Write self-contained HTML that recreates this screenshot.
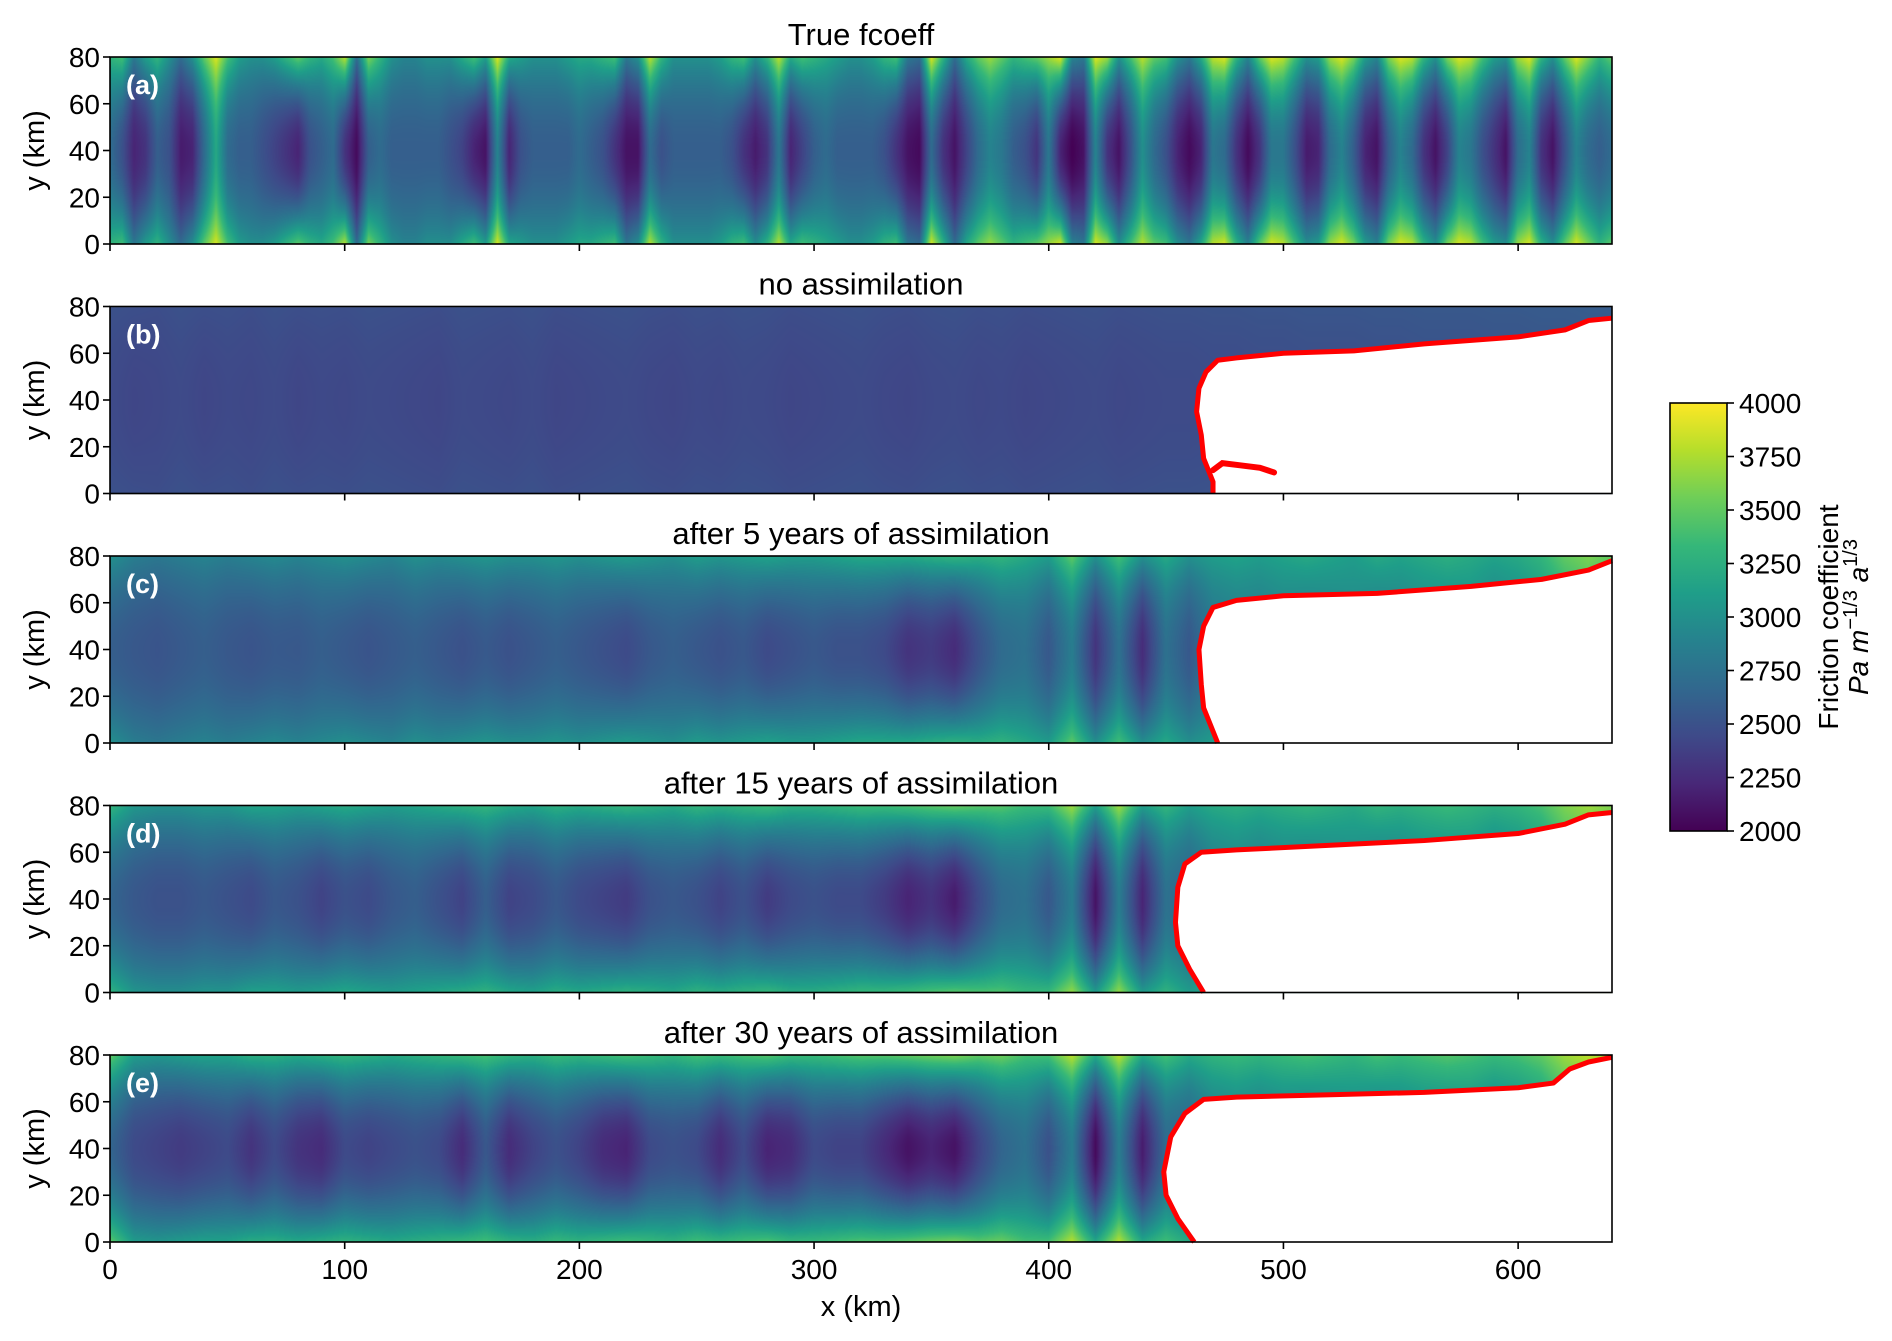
<!DOCTYPE html>
<html><head><meta charset="utf-8"><style>
body{margin:0;background:#fff;}
#wrap{position:relative;width:1892px;height:1341px;overflow:hidden;font-family:"Liberation Sans",sans-serif;}
canvas,svg{position:absolute;left:0;top:0;}
</style></head><body>
<div id="wrap">
<canvas id="cv" width="1892" height="1341"></canvas>
<svg id="sv" width="1892" height="1341"></svg>
</div>
<script>
const panelTitles=["True fcoeff","no assimilation","after 5 years of assimilation","after 15 years of assimilation","after 30 years of assimilation"];
const panelLetters=["(a)","(b)","(c)","(d)","(e)"];
const xTicks=[0,100,200,300,400,500,600];
const yTicks=[0,20,40,60,80];
const cbTicks=[2000,2250,2500,2750,3000,3250,3500,3750,4000];
// panel a: 5 km sampling
const aCenter=[2700,2500,2200,2300,2600,2500,2150,2200,2700,3200,2700,2600,2600,2500,2400,2300,2200,2500,2600,2700,2300,2050,2600,2700,2600,2600,2600,2600,2600,2500,2400,2200,2100,2900,2200,2500,2600,2600,2600,2600,2700,2600,2500,2300,2100,2100,2700,2500,2600,2600,2600,2600,2600,2500,2300,2150,2300,2800,2200,2400,2600,2700,2600,2600,2600,2600,2500,2300,2100,2050,2700,2300,2100,2400,2700,2900,2800,2600,2500,2300,2800,2200,2000,2100,2900,2300,2100,2500,3000,2700,2500,2200,2050,2200,2800,2700,2300,2050,2300,2800,2800,2500,2150,2200,2700,2900,2600,2200,2100,2600,2900,2700,2300,2100,2400,2900,2800,2500,2300,2100,2700,2900,2300,2100,2500,2900,2700,2600,2700];
const aEdge=[3300,3400,2800,3100,3300,3000,2700,3000,3500,3900,3400,3100,3000,3000,3100,3300,3500,3300,3200,3400,3800,2700,3600,3300,3000,2900,2900,3000,3000,3000,3200,3400,3100,3900,3200,3100,3000,3000,3000,3100,3200,3200,3300,3400,2800,3000,3800,3300,3000,3000,3000,3000,3100,3300,3400,3000,3300,3800,3200,3400,3300,3200,3100,3000,3000,3100,3300,3400,2800,2700,3900,3300,2700,3200,3500,3700,3500,3300,3400,3500,3700,3900,2900,2800,3900,3700,3000,3400,3800,3500,3400,3000,2800,3200,3800,3900,3300,2900,3500,3900,3800,3400,3000,3100,3700,3900,3600,3100,2900,3600,3900,3800,3300,3000,3600,3900,3800,3400,3100,3000,3700,3900,3300,3000,3500,3900,3600,3300,3500];
// panels b-e: 10 km sampling
const bCenter=[2450,2420,2430,2450,2420,2440,2430,2450,2420,2440,2430,2450,2440,2430,2420,2450,2440,2430,2450,2420,2430,2440,2450,2430,2420,2440,2430,2450,2440,2420,2430,2440,2450,2430,2420,2440,2450,2430,2440,2420,2430,2440,2450,2430,2440,2450,2450,2460,2460,2470,2470,2480,2480,2480,2490,2490,2500,2500,2500,2510,2510,2520,2520,2530,2530];
const bEdge=[2500,2480,2470,2500,2480,2490,2470,2500,2480,2490,2480,2500,2490,2480,2470,2500,2490,2480,2500,2470,2480,2490,2500,2480,2470,2490,2480,2500,2490,2470,2480,2490,2500,2480,2470,2490,2500,2480,2490,2470,2480,2490,2500,2480,2490,2500,2500,2510,2510,2520,2520,2530,2530,2530,2540,2540,2550,2550,2550,2560,2560,2570,2570,2580,2580];
const cCenter=[2600,2550,2520,2560,2600,2550,2520,2560,2550,2600,2560,2520,2560,2600,2550,2500,2560,2500,2550,2600,2550,2500,2450,2550,2600,2550,2500,2550,2450,2500,2550,2500,2500,2450,2300,2350,2250,2500,2700,2750,2550,2850,2300,2750,2250,2750,2550,2800,2850,2850,2900,2850,2900,2950,2850,2900,2950,2950,3000,2900,2950,3050,3200,3300,3300];
const cEdge=[3000,2850,2800,2850,2900,2850,2900,2950,2900,2950,3000,2950,2900,3000,2950,3000,3050,3000,3000,3050,3000,3050,3100,3050,3000,3100,3050,3100,3150,3100,3100,3150,3200,3200,3200,3250,3300,3250,3300,3200,3100,3500,3000,3400,3000,3200,3000,3100,3150,3100,3150,3200,3150,3100,3200,3150,3200,3250,3200,3150,3200,3300,3500,3600,3500];
const dCenter=[2650,2550,2500,2500,2550,2500,2450,2550,2500,2400,2500,2450,2550,2600,2500,2400,2600,2400,2450,2550,2450,2400,2350,2500,2550,2500,2400,2500,2350,2450,2500,2450,2450,2350,2200,2300,2150,2450,2700,2750,2550,2850,2100,2850,2200,2750,2650,2850,2900,2850,2900,2850,2900,2950,2850,2900,2950,2950,3000,2900,2950,3050,3300,3400,3400];
const dEdge=[3300,3050,3000,3000,3050,3050,3150,3150,3100,3150,3200,3150,3100,3150,3200,3250,3300,3200,3150,3250,3200,3250,3300,3250,3200,3300,3250,3300,3350,3250,3250,3300,3350,3350,3400,3450,3500,3450,3450,3350,3350,3700,3100,3700,3100,3300,3100,3200,3250,3200,3250,3300,3250,3200,3300,3250,3300,3350,3300,3250,3300,3400,3600,3700,3600];
const eCenter=[2650,2450,2400,2350,2400,2450,2300,2450,2300,2250,2450,2400,2450,2500,2450,2250,2550,2250,2400,2500,2400,2250,2200,2450,2500,2450,2250,2450,2200,2250,2450,2400,2400,2250,2100,2200,2100,2400,2650,2750,2500,2850,2050,2850,2150,2700,2650,2850,2900,2850,2900,2850,2900,2950,2850,2900,2950,2950,3000,2900,2950,3050,3300,3400,3400];
const eEdge=[3500,3100,3050,3100,3150,3150,3250,3250,3200,3250,3300,3250,3200,3250,3300,3350,3400,3300,3250,3350,3300,3350,3400,3350,3300,3400,3350,3400,3450,3350,3350,3400,3450,3450,3500,3550,3600,3500,3550,3400,3400,3800,3200,3800,3200,3400,3200,3300,3350,3300,3350,3400,3350,3300,3400,3350,3400,3450,3400,3350,3400,3500,3700,3800,3700];
// grounding lines [x km, y km]
const glB=[[470,0],[470,5],[466,15],[465,25],[463,35],[464,45],[467,52],[472,57],[480,58],[500,60],[530,61],[560,64],[600,67],[620,70],[630,74],[640,75]];
const glBranch=[[470,10],[474,13],[482,12],[490,11],[496,9]];
const glC=[[472,0],[470,5],[466,15],[465,25],[464,40],[466,50],[470,58],[480,61],[500,63],[540,64],[580,67],[610,70],[630,74],[640,78]];
const glD=[[466,0],[460,10],[455,20],[454,30],[455,45],[458,55],[465,60],[480,61],[520,63],[560,65],[600,68],[620,72],[630,76],[640,77]];
const glE=[[462,0],[455,10],[450,20],[449,30],[452,45],[458,55],[466,61],[480,62],[520,63],[560,64],[600,66],[615,68],[622,74],[630,77],[640,79]];

const L=110,W=1502,H=187,tops=[57,306.5,556,805.5,1055];
const panels=[{c:aCenter,e:aEdge,gl:null},{c:bCenter,e:bEdge,gl:glB},{c:cCenter,e:cEdge,gl:glC},{c:dCenter,e:dEdge,gl:glD},{c:eCenter,e:eEdge,gl:glE}];
const vir=[[68,1,84],[72,40,120],[62,74,137],[49,104,142],[38,130,142],[31,158,137],[53,183,121],[110,206,88],[181,222,43],[253,231,37]];
function cmap(v){let t=Math.max(0,Math.min(1,(v-2000)/2000))*(vir.length-1);let i=Math.min(vir.length-2,Math.floor(t)),f=t-i;return vir[i].map((c,k)=>c+(vir[i+1][k]-c)*f);}
function xS(x){return L+x/640*W;}
function yS(y,p){return tops[p]+H-y/80*H;}
const cv=document.getElementById('cv'),ctx=cv.getContext('2d');
panels.forEach((P,p)=>{
  const img=ctx.createImageData(W,Math.round(H));const n=P.c.length;
  for(let px=0;px<W;px++){
    const xi=px/(W-1)*(n-1),i=Math.min(n-2,Math.floor(xi)),f=xi-i;
    const c=P.c[i]*(1-f)+P.c[i+1]*f,e=P.e[i]*(1-f)+P.e[i+1]*f;
    for(let py=0;py<Math.round(H);py++){
      const y=80-py/H*80,w=Math.pow((y-40)/40,2);
      const col=cmap(c+(e-c)*w);const o=(py*W+px)*4;
      img.data[o]=col[0];img.data[o+1]=col[1];img.data[o+2]=col[2];img.data[o+3]=255;
    }
  }
  ctx.putImageData(img,L,Math.round(tops[p]));
});
const sv=document.getElementById('sv');const NS='http://www.w3.org/2000/svg';
function mk(tag,attrs,txt){const el=document.createElementNS(NS,tag);for(const k in attrs)el.setAttribute(k,attrs[k]);if(txt!==undefined)el.textContent=txt;sv.appendChild(el);return el;}
panels.forEach((P,p)=>{
  if(P.gl){
    const pts=P.gl.map(q=>xS(q[0])+','+yS(q[1],p));
    const poly=mk('polygon',{points:pts.join(' ')+' '+xS(640)+','+yS(0,p),fill:'#fff'});
    
    
    const ln=mk('polyline',{points:pts.join(' '),fill:'none',stroke:'#ff0000','stroke-width':5,'stroke-linejoin':'round'});
    
    
    if(p===1){const br=mk('polyline',{points:glBranch.map(q=>xS(q[0])+','+yS(q[1],p)).join(' '),fill:'none',stroke:'#ff0000','stroke-width':6,'stroke-linecap':'round'});
      
      }
  }
  const fr=mk('rect',{x:L,y:tops[p],width:W,height:H,fill:'none',stroke:'#000','stroke-width':1.6});
  
  
  const t=mk('text',{x:L+W/2,y:tops[p]-12,'text-anchor':'middle','font-size':31},panelTitles[p]);
  
  
  const lt=mk('text',{x:126,y:tops[p]+37,'font-size':27,'font-weight':'bold',fill:'#fff'},panelLetters[p]);
  
  
  yTicks.forEach(v=>{const yy=yS(v,p);
    const tk=mk('line',{x1:L-7,x2:L,y1:yy,y2:yy,stroke:'#000','stroke-width':1.6});
    
    
    const tl=mk('text',{x:L-10,y:yy+10,'text-anchor':'end','font-size':28},String(v));
    
    });
  xTicks.forEach(v=>{const xx=xS(v);
    const tk=mk('line',{x1:xx,x2:xx,y1:tops[p]+H,y2:tops[p]+H+7,stroke:'#000','stroke-width':1.6});
    
    
    if(p===4){const tl=mk('text',{x:xx,y:tops[p]+H+37,'text-anchor':'middle','font-size':28},String(v));
      
      }});
  const yl=mk('text',{x:0,y:0,transform:'translate(44,'+(tops[p]+H/2)+') rotate(-90)','text-anchor':'middle','font-size':29},'y (km)');
  
  
});
const xl=mk('text',{x:L+W/2,y:1316,'text-anchor':'middle','font-size':29},'x (km)');


// colorbar
const defs=mk('defs',{});const g=document.createElementNS(NS,'linearGradient');g.setAttribute('id','vg');g.setAttribute('x1','0');g.setAttribute('y1','1');g.setAttribute('x2','0');g.setAttribute('y2','0');
vir.forEach((c,i)=>{const s=document.createElementNS(NS,'stop');s.setAttribute('offset',i/(vir.length-1));s.setAttribute('stop-color','rgb('+c.join(',')+')');g.appendChild(s);});defs.appendChild(g);
const cbT=403,cbB=831,cbL=1670,cbW=57;
const cb=mk('rect',{x:cbL,y:cbT,width:cbW,height:cbB-cbT,fill:'url(#vg)',stroke:'#000','stroke-width':1.6});


cbTicks.forEach(v=>{const yy=cbB-(v-2000)/2000*(cbB-cbT);
  const tk=mk('line',{x1:cbL+cbW,x2:cbL+cbW+7,y1:yy,y2:yy,stroke:'#000','stroke-width':1.6});
  
  
  const tl=mk('text',{x:cbL+cbW+12,y:yy+10,'font-size':28},String(v));
  
  });
const c1=mk('text',{x:0,y:0,transform:'translate(1838,617) rotate(-90)','text-anchor':'middle','font-size':28},'Friction coefficient');


const c2=mk('text',{x:0,y:0,transform:'translate(1868,617) rotate(-90)','text-anchor':'middle','font-size':28,'font-style':'italic'});


c2.innerHTML='Pa m<tspan dy="-11" font-size="20" font-style="normal">−1/3</tspan><tspan dy="11"> a</tspan><tspan dy="-11" font-size="20" font-style="normal">1/3</tspan>';
</script>
</body></html>
